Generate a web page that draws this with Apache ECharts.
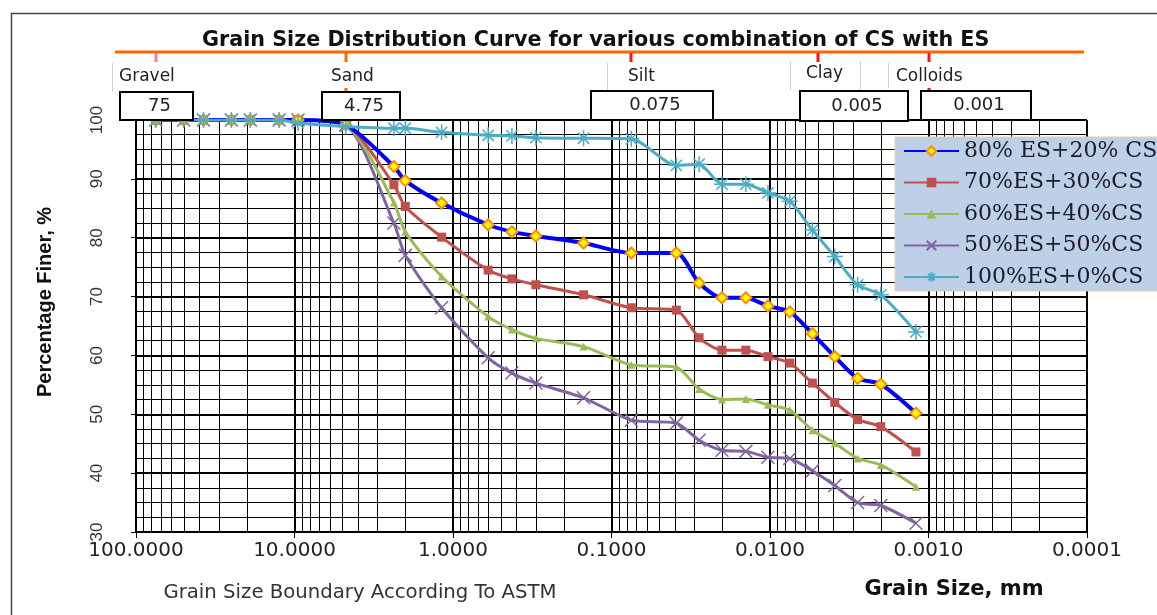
<!DOCTYPE html>
<html>
<head>
<meta charset="utf-8">
<script src="https://cdn.jsdelivr.net/npm/echarts@6/dist/echarts.min.js"></script>
<style>
  html, body { margin: 0; padding: 0; background: #fff; }
  #chart { width: 1157px; height: 615px; }
</style>
</head>
<body>
<div id="chart"></div>
<script>
// Sieve and hydrometer grain sizes (mm)
const grainSizes = [75, 50, 37.5, 25, 19, 12.5, 9.5, 4.75, 2.36, 2.0, 1.18, 0.6, 0.425, 0.3, 0.15, 0.075,
  0.039, 0.028, 0.0201, 0.0142, 0.0103, 0.0075, 0.0054, 0.0039, 0.0028, 0.0020, 0.0012];

// Percentage finer for each mix
const mix80 = [100, 100, 100, 100, 100, 100, 100, 99.2, 92.1, 89.7, 85.9, 82.2, 81.0, 80.3, 79.1, 77.4,
  77.4, 72.3, 69.8, 69.8, 68.4, 67.4, 63.7, 59.8, 56.1, 55.1, 50.2];
const mix70 = [100, 100, 100, 100, 100, 100, 100, 99.2, 89.0, 85.3, 80.1, 74.5, 73.0, 72.0, 70.3, 68.1,
  67.7, 63.0, 60.9, 60.9, 59.8, 58.7, 55.3, 52.0, 49.1, 47.9, 43.6];
const mix60 = [100, 100, 100, 100, 100, 100, 100, 99.2, 86.0, 81.0, 73.4, 66.6, 64.4, 62.9, 61.5, 58.4,
  58.0, 54.3, 52.5, 52.6, 51.6, 50.7, 47.3, 45.1, 42.5, 41.4, 37.7];
const mix50 = [100, 100, 100, 100, 100, 100, 100, 99.2, 82.5, 77.0, 68.1, 59.6, 57.0, 55.3, 52.8, 49.0,
  48.5, 45.6, 43.9, 43.7, 42.7, 42.5, 40.4, 37.9, 35.0, 34.5, 31.5];
const mix100 = [100, 100, 100, 100, 100, 100, 99.5, 98.9, 98.6, 98.6, 97.9, 97.4, 97.3, 97.0, 96.9, 96.8,
  92.3, 92.5, 89.1, 89.1, 87.6, 86.2, 81.3, 76.8, 72.0, 70.3, 64.0];

const seriesNames = ['80% ES+20% CS', '70%ES+30%CS', '60%ES+40%CS', '50%ES+50%CS', '100%ES+0%CS'];

// ASTM boundaries shown above the plot
const boundarySizes = [75, 4.75, 0.075, 0.005, 0.001];
const boundaryLabels = ['75', '4.75', '0.075', '0.005', '0.001'];
const soilClasses = ['Gravel', 'Sand', 'Silt', 'Clay', 'Colloids'];

// Log-paper minor gridlines: 2..9 in every decade
const minorGrid = [];
for (let e = -4; e < 2; e++) {
  for (let m = 2; m <= 9; m++) minorGrid.push(m * Math.pow(10, e));
}

const pairs = ys => grainSizes.map((x, i) => [x, ys[i]]);

const crossPath = 'path://M0 0L10 10M10 0L0 10';
const starPath = 'path://M5 0L5 10M0 5L10 5M1.5 1.5L8.5 8.5M8.5 1.5L1.5 8.5';

const chart = echarts.init(document.getElementById('chart'), null, { renderer: 'canvas' });

const option = {
  animation: false,
  backgroundColor: '#ffffff',
  title: {
    text: 'Grain Size Distribution Curve for various combination of CS with ES',
    left: 197, top: 25,
    textStyle: { fontFamily: 'DejaVu Sans', fontWeight: 'bold', fontSize: 20.7, color: '#111' }
  },
  grid: { left: 136, right: 70, top: 120, bottom: 83 },
  legend: {
    data: seriesNames,
    orient: 'vertical',
    left: 895, top: 137,
    padding: [3, 10, 3, 8],
    itemGap: 9.5,
    itemWidth: 55,
    itemHeight: 12,
    backgroundColor: '#BED0E7',
    borderColor: '#EFC9A4',
    borderWidth: 1,
    borderRadius: 0,
    textStyle: { fontFamily: 'DejaVu Serif', fontSize: 22, lineHeight: 22, color: '#1c1c2a' }
  },
  xAxis: {
    type: 'log', logBase: 10, min: 0.0001, max: 100, inverse: true, splitNumber: 6,
    axisLine: { show: true, onZero: false, lineStyle: { color: '#000', width: 2 } },
    axisTick: { show: true, length: 6, lineStyle: { color: '#000', width: 1 } },
    axisLabel: { formatter: v => v.toFixed(4), fontFamily: 'DejaVu Sans', fontSize: 20, color: '#222', margin: 9 },
    splitLine: { show: true, lineStyle: { color: '#000', width: 2 } }
  },
  yAxis: {
    type: 'value', min: 30, max: 100, interval: 10,
    axisLine: { show: true, lineStyle: { color: '#000', width: 2 } },
    axisTick: { show: true, length: 5, lineStyle: { color: '#000' } },
    axisLabel: { rotate: 90, fontFamily: 'Liberation Sans', fontSize: 17, color: '#333', margin: 30 },
    splitLine: { show: true, lineStyle: { color: '#000', width: 2 } },
    minorTick: { show: false, splitNumber: 4 },
    minorSplitLine: { show: true, lineStyle: { color: '#000', width: 1 } }
  },
  series: [
    {
      type: 'custom', name: 'grid', silent: true, z: 1,
      data: minorGrid.map(v => [v, 30]),
      encode: { x: 0, y: 1 },
      renderItem: (params, api) => {
        const cs = params.coordSys;
        const p = api.coord([api.value(0), 30]);
        const x = Math.round(p[0]) + 0.5;
        return { type: 'line', shape: { x1: x, y1: cs.y, x2: x, y2: cs.y + cs.height },
                 style: { stroke: '#000', lineWidth: 1 } };
      }
    },
    {
      name: seriesNames[0], type: 'line', data: pairs(mix80), smooth: 0.25, z: 6,
      symbol: 'diamond', symbolSize: 11,
      lineStyle: { color: '#0000FF', width: 4 },
      itemStyle: { color: '#FFFF00', borderColor: '#FF8C00', borderWidth: 2 }
    },
    {
      name: seriesNames[1], type: 'line', data: pairs(mix70), smooth: 0.25, z: 5,
      symbol: 'rect', symbolSize: 9,
      lineStyle: { color: '#C0504D', width: 3 },
      itemStyle: { color: '#C0504D' }
    },
    {
      name: seriesNames[2], type: 'line', data: pairs(mix60), smooth: 0.25, z: 4,
      symbol: 'triangle', symbolSize: 8,
      lineStyle: { color: '#9BBB59', width: 3 },
      itemStyle: { color: '#9BBB59' }
    },
    {
      name: seriesNames[3], type: 'line', data: pairs(mix50), smooth: 0.25, z: 3,
      symbol: crossPath, symbolSize: 13,
      lineStyle: { color: '#8064A2', width: 3 },
      itemStyle: { color: '#8064A2', borderColor: '#8064A2', borderWidth: 1.5 }
    },
    {
      name: seriesNames[4], type: 'line', data: pairs(mix100), smooth: 0.25, z: 7,
      symbol: starPath, symbolSize: 16,
      lineStyle: { color: '#4BACC6', width: 3 },
      itemStyle: { color: '#4BACC6', borderColor: '#4BACC6', borderWidth: 1.5 }
    }
  ]
};

chart.setOption(option);

// Soil-class band above the plot, tied to the boundary sizes on the x axis
const tickX = boundarySizes.map(v => Math.round(chart.convertToPixel({ xAxisIndex: 0 }, v)));
const tickColors = ['#EC7FA9', '#FF6A00', '#FF1010', '#FF1010', '#FF1010'];
const labelPos = [[119, 77], [331, 77], [628, 77], [806, 74], [896, 77]];
const dividerLines = [[112, 63, 92], [607, 63, 92], [790, 61, 90], [860, 61, 90], [888, 63, 88]];
const boxes = [[120, 92, 73, 28], [322, 92, 78, 28], [591, 91, 122, 29], [800, 91, 108, 30], [921, 91, 110, 29]];
const lowerTicks = [1, 4];

const elements = [];
elements.push({ type: 'rect', z: 100, shape: { x: 11.5, y: 13.5, width: 1300, height: 700 },
  style: { fill: 'none', stroke: '#444', lineWidth: 1.5 } });
elements.push({ type: 'line', z: 100, shape: { x1: 115, y1: 52, x2: 1084, y2: 52 },
  style: { stroke: '#FF6600', lineWidth: 3 } });
tickX.forEach((x, i) => {
  elements.push({ type: 'line', z: 100, shape: { x1: x, y1: 53, x2: x, y2: 62 },
    style: { stroke: tickColors[i], lineWidth: 3 } });
});
lowerTicks.forEach(i => {
  elements.push({ type: 'line', z: 100, shape: { x1: tickX[i], y1: 88, x2: tickX[i], y2: 92 },
    style: { stroke: tickColors[i], lineWidth: 3 } });
});
dividerLines.forEach(d => {
  elements.push({ type: 'line', z: 100, shape: { x1: d[0] + 0.5, y1: d[1], x2: d[0] + 0.5, y2: d[2] },
    style: { stroke: '#cfcfcf', lineWidth: 1 } });
});
soilClasses.forEach((t, i) => {
  elements.push({ type: 'text', z: 100, x: labelPos[i][0], y: labelPos[i][1],
    style: { text: t, font: '17px "DejaVu Sans"', fill: '#222', align: 'left', verticalAlign: 'middle' } });
});
boxes.forEach((b, i) => {
  elements.push({ type: 'rect', z: 100, shape: { x: b[0], y: b[1], width: b[2], height: b[3] },
    style: { fill: '#fff', stroke: '#000', lineWidth: 2 } });
  elements.push({ type: 'text', z: 101, x: b[0] + b[2] / 2 + 3, y: b[1] + b[3] / 2,
    style: { text: boundaryLabels[i], font: '18px "DejaVu Sans"', fill: '#222', align: 'center', verticalAlign: 'middle' } });
});
elements.push({ type: 'text', z: 100, x: 45, y: 302, rotation: Math.PI / 2,
  style: { text: 'Percentage Finer, %', font: 'bold 20px "Liberation Sans"', fill: '#111', align: 'center', verticalAlign: 'middle' } });
elements.push({ type: 'text', z: 100, x: 954, y: 590,
  style: { text: 'Grain Size, mm', font: 'bold 21px "DejaVu Sans"', fill: '#111', align: 'center', verticalAlign: 'middle' } });
elements.push({ type: 'text', z: 100, x: 360, y: 593,
  style: { text: 'Grain Size Boundary According To ASTM', font: '19.7px "DejaVu Sans"', fill: '#333', align: 'center', verticalAlign: 'middle' } });

chart.setOption({ graphic: { elements } });
</script>
</body>
</html>
